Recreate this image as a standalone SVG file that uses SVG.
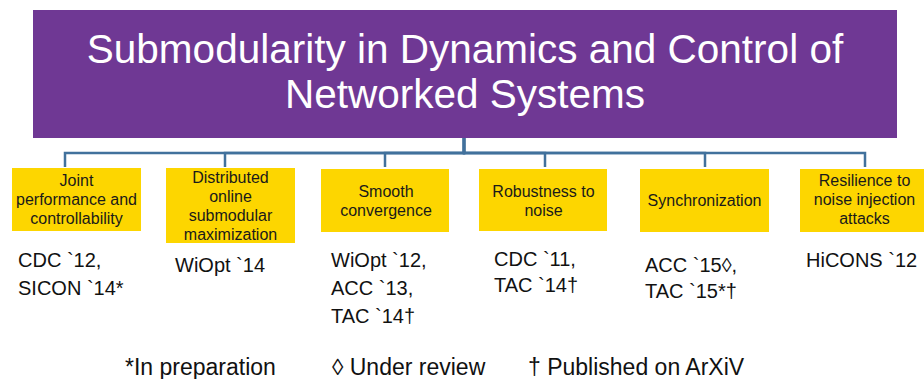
<svg xmlns="http://www.w3.org/2000/svg" width="924" height="379" viewBox="0 0 924 379">
  <style>
    .title { font-family: "Liberation Sans", Arial, sans-serif; font-size: 40.5px; fill: #ffffff; text-anchor: middle; }
    .topic { fill: #fdd600; }
    .tlabel { font-family: "Liberation Sans", Arial, sans-serif; font-size: 16px; fill: #1a1a1a; text-anchor: middle; }
    .pubs { font-family: "Liberation Sans", Arial, sans-serif; font-size: 20px; fill: #111111; }
    .legend { font-family: "Liberation Sans", Arial, sans-serif; font-size: 23px; fill: #111111; }
    .link { fill: none; stroke: #41719c; stroke-width: 2.5; }
  </style>

  <rect width="924" height="379" fill="#ffffff"/>

  <!-- root -->
  <g id="root">
    <rect x="33" y="10" width="864" height="128" fill="#6f3894"/>
    <text class="title" x="465" y="63">Submodularity in Dynamics and Control of</text>
    <text class="title" x="465" y="108">Networked Systems</text>
  </g>

  <!-- elbow connectors from the root to each topic -->
  <g id="connectors">
    <path class="link" d="M464,138 V153 H65 V167"/>
    <path class="link" d="M464,138 V153 H225 V167"/>
    <path class="link" d="M464,138 V153 H385 V167"/>
    <path class="link" d="M464,138 V153 H545 V167"/>
    <path class="link" d="M464,138 V153 H705 V167"/>
    <path class="link" d="M464,138 V153 H865 V167"/>
  </g>

  <!-- topics -->
  <g id="topic-joint">
    <rect class="topic" x="12" y="168" width="129" height="63"/>
    <text class="tlabel" x="76.5" y="186">Joint</text>
    <text class="tlabel" x="76.5" y="205">performance and</text>
    <text class="tlabel" x="76.5" y="224">controllability</text>
  </g>

  <g id="topic-distributed">
    <rect class="topic" x="166" y="168" width="129" height="75"/>
    <text class="tlabel" x="230.5" y="183">Distributed</text>
    <text class="tlabel" x="230.5" y="202">online</text>
    <text class="tlabel" x="230.5" y="221">submodular</text>
    <text class="tlabel" x="230.5" y="240">maximization</text>
  </g>

  <g id="topic-smooth">
    <rect class="topic" x="321" y="169" width="128" height="63"/>
    <text class="tlabel" x="386" y="197">Smooth</text>
    <text class="tlabel" x="386" y="216">convergence</text>
  </g>

  <g id="topic-robustness">
    <rect class="topic" x="479" y="169" width="128" height="62"/>
    <text class="tlabel" x="543.5" y="197">Robustness to</text>
    <text class="tlabel" x="543.5" y="216">noise</text>
  </g>

  <g id="topic-sync">
    <rect class="topic" x="640" y="169" width="129" height="63"/>
    <text class="tlabel" x="704.5" y="206">Synchronization</text>
  </g>

  <g id="topic-resilience">
    <rect class="topic" x="800" y="169" width="128" height="63"/>
    <text class="tlabel" x="864.5" y="186">Resilience to</text>
    <text class="tlabel" x="864.5" y="205">noise injection</text>
    <text class="tlabel" x="864.5" y="224">attacks</text>
  </g>

  <!-- publications under each topic -->
  <g id="pubs-joint">
    <text class="pubs" x="18" y="267">CDC `12,</text>
    <text class="pubs" x="18" y="295">SICON `14*</text>
  </g>
  <g id="pubs-distributed">
    <text class="pubs" x="175" y="272">WiOpt `14</text>
  </g>
  <g id="pubs-smooth">
    <text class="pubs" x="331" y="267">WiOpt `12,</text>
    <text class="pubs" x="331" y="295">ACC `13,</text>
    <text class="pubs" x="331" y="323">TAC `14†</text>
  </g>
  <g id="pubs-robustness">
    <text class="pubs" x="494" y="266">CDC `11,</text>
    <text class="pubs" x="494" y="292">TAC `14†</text>
  </g>
  <g id="pubs-sync">
    <text class="pubs" x="645" y="272">ACC `15◊,</text>
    <text class="pubs" x="645" y="298">TAC `15*†</text>
  </g>
  <g id="pubs-resilience">
    <text class="pubs" x="806" y="267">HiCONS `12</text>
  </g>

  <!-- key -->
  <g id="legend">
    <text class="legend" x="125" y="375">*In preparation</text>
    <text class="legend" x="332" y="375">◊ Under review</text>
    <text class="legend" x="528" y="375">† Published on ArXiV</text>
  </g>
</svg>
